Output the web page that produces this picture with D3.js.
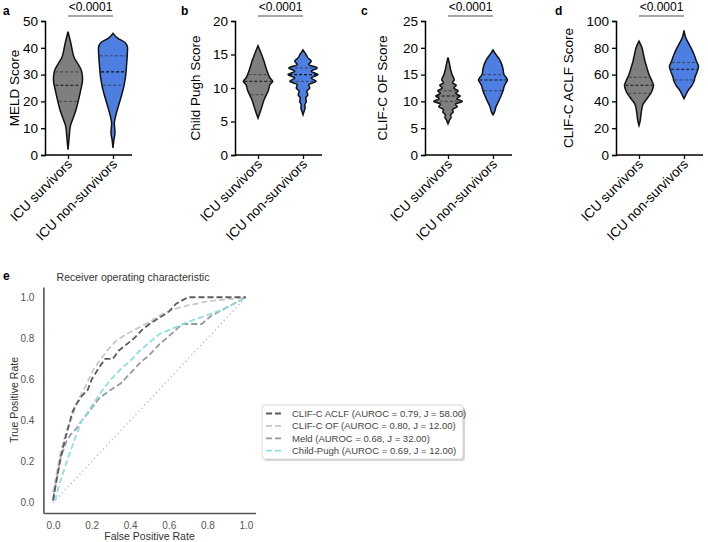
<!DOCTYPE html>
<html><head><meta charset="utf-8">
<script src="https://cdn.jsdelivr.net/npm/d3@7"></script>
<style>
body{margin:0;background:#fff;}
svg{display:block;font-family:Arial,"Liberation Sans",sans-serif;}
</style></head>
<body><svg id="c" width="708" height="542"></svg>
<script>
// ---------------- DATA ----------------
const groups = ["ICU survivors", "ICU non-survivors"];
const pValue = "<0.0001";

// violin densities: [score, relative half-width]
const meldSurv = [[46,0],[41.7,0.19],[36.7,0.39],[31,0.92],[28,0.97],[24.3,0.85],[20.5,0.7],[16.8,0.53],[13,0.29],[10.6,0.15],[6.8,0.08],[2,0]];
const meldNon = [[45.4,0],[43.5,0.33],[42,0.8],[40,0.97],[37,0.95],[34,0.91],[29,0.83],[24.3,0.67],[19.4,0.42],[14.3,0.17],[11.9,0.09],[9.5,0.12],[8,0.13],[6,0.07],[2.6,0]];
const meldQuart = [[20,26,31],[26,31,37]];
const meldTicks = [0,10,20,30,40,50];

const cpSurv = [[16.3,0],[14.2,0.37],[12.7,0.58],[11.5,0.8],[11,0.98],[10.5,0.8],[9.7,0.7],[8.2,0.4],[6.7,0.19],[5.5,0]];
const cpNon = [[15.7,0],[15,0.2],[14.5,0.33],[14,0.55],[13.5,0.38],[13,0.95],[12.5,0.55],[12,1.0],[11.5,0.55],[11,0.88],[10.5,0.38],[10,0.45],[9.5,0.25],[9,0.32],[8.5,0.18],[8,0.22],[7.5,0.12],[7,0.14],[6.5,0.07],[6,0]];
const cpQuart = [[9,11,12],[11,12,13]];
const cpTicks = [0,5,10,15,20];

const ofSurv = [[18.2,0],[17,0.1],[16,0.17],[15,0.27],[14,0.42],[13.5,0.3],[13,0.55],[12.5,0.38],[12,0.68],[11.5,0.5],[11,0.82],[10.5,0.58],[10,0.95],[9.5,0.5],[9,0.62],[8.5,0.3],[8,0.35],[7.5,0.18],[7,0.2],[6.5,0.1],[6,0.03],[5.8,0]];
const ofNon = [[19.6,0],[19,0.13],[18,0.4],[17,0.57],[16,0.67],[15,0.73],[14.5,0.87],[14,0.97],[13.5,0.87],[13,0.77],[12,0.67],[11,0.53],[10,0.37],[9,0.2],[8,0.1],[7.5,0]];
const ofQuart = [[10,11,12],[12,14,15]];
const ofTicks = [0,5,10,15,20,25];

const aclfSurv = [[85,0],[80,0.2],[75,0.3],[70,0.4],[65,0.53],[60,0.67],[55,0.87],[52,0.97],[48,0.87],[45,0.73],[42,0.53],[38,0.27],[35,0.2],[30,0.13],[25,0.07],[22,0]];
const aclfNon = [[93,0],[88,0.1],[84,0.27],[80,0.47],[75,0.67],[70,0.83],[66,0.97],[62,0.87],[58,0.73],[55,0.67],[52,0.53],[48,0.27],[45,0.13],[42,0]];
const aclfQuart = [[46,52,58],[56,64,69]];
const aclfTicks = [0,20,40,60,80,100];

const violinPanels = [
  {letter:"a", title:"MELD Score", max:50, ticks:meldTicks, data:[meldSurv, meldNon], quart:meldQuart},
  {letter:"b", title:"Child Pugh Score", max:20, ticks:cpTicks, data:[cpSurv, cpNon], quart:cpQuart},
  {letter:"c", title:"CLIF-C OF Score", max:25, ticks:ofTicks, data:[ofSurv, ofNon], quart:ofQuart},
  {letter:"d", title:"CLIF-C ACLF Score", max:100, ticks:aclfTicks, data:[aclfSurv, aclfNon], quart:aclfQuart}
];

// ROC curves: [FPR, TPR]
const rocAclf = [[0,0.01],[0.02,0.12],[0.04,0.22],[0.06,0.3],[0.08,0.37],[0.10,0.44],[0.12,0.48],[0.15,0.52],[0.18,0.55],[0.2,0.6],[0.24,0.66],[0.27,0.7],[0.31,0.7],[0.34,0.74],[0.38,0.77],[0.42,0.8],[0.46,0.84],[0.5,0.87],[0.55,0.9],[0.6,0.93],[0.64,0.97],[0.7,1.0],[1.0,1.0]];
const rocOf = [[0,0.05],[0.02,0.15],[0.04,0.25],[0.07,0.35],[0.10,0.42],[0.13,0.5],[0.17,0.57],[0.21,0.65],[0.24,0.69],[0.28,0.74],[0.33,0.79],[0.38,0.82],[0.44,0.85],[0.5,0.88],[0.55,0.91],[0.62,0.94],[0.7,0.96],[0.8,0.98],[0.9,0.99],[1,1]];
const rocMeld = [[0,0.02],[0.02,0.12],[0.04,0.22],[0.07,0.3],[0.09,0.33],[0.12,0.36],[0.15,0.4],[0.2,0.46],[0.24,0.51],[0.3,0.55],[0.35,0.58],[0.4,0.63],[0.45,0.68],[0.5,0.72],[0.55,0.77],[0.6,0.81],[0.67,0.87],[0.72,0.87],[0.77,0.87],[0.82,0.91],[0.88,0.94],[0.94,0.97],[1,1]];
const rocCp = [[0.01,0.01],[0.03,0.08],[0.06,0.17],[0.09,0.25],[0.12,0.33],[0.15,0.4],[0.2,0.47],[0.25,0.54],[0.3,0.6],[0.35,0.65],[0.4,0.69],[0.45,0.74],[0.5,0.78],[0.55,0.82],[0.6,0.84],[0.65,0.86],[0.7,0.88],[0.76,0.9],[0.82,0.92],[0.88,0.94],[0.94,0.97],[1,1]];
const rocChance = [[0,0],[1,1]];
const rocNames = ["CLIF-C ACLF (AUROC = 0.79, J = 58.00)","CLIF-C OF (AUROC = 0.80, J = 12.00)","Meld (AUROC = 0.68, J = 32.00)","Child-Pugh (AUROC = 0.69, J = 12.00)"];
const rocTicks = [0,0.2,0.4,0.6,0.8,1.0];

// ---------------- DRAW ----------------
const svg = d3.select("#c");
const fills = ["#7f7f7f", "#4d7fe3"];
const layout = [
  {x0:45, titleOff:31, letterX:3},
  {x0:235, titleOff:40, letterX:181},
  {x0:425, titleOff:43, letterX:361},
  {x0:616, titleOff:48, letterX:555}
];
const FS = 13.5;

function interp(arr, v){
  const s = arr.slice().sort((a,b)=>a[0]-b[0]);
  for(let i=0;i<s.length-1;i++){
    if(v>=s[i][0] && v<=s[i+1][0]){
      const t=(v-s[i][0])/(s[i+1][0]-s[i][0]);
      return s[i][1]+t*(s[i+1][1]-s[i][1]);
    }
  }
  return 0;
}

violinPanels.forEach((p,pi)=>{
  const L = layout[pi];
  const g = svg.append("g");
  const y = d3.scaleLinear().domain([0,p.max]).range([155,21]);
  const x = d3.scalePoint().domain(groups).range([L.x0+23, L.x0+68]);
  const w = d3.scaleLinear().domain([0,1]).range([0,15]);

  p.data.forEach((dens,gi)=>{
    const cx = x(groups[gi]);
    const area = d3.area()
      .y(d=>y(d[0]))
      .x0(d=>cx - w(d[1]))
      .x1(d=>cx + w(d[1]))
      .curve(d3.curveMonotoneY);
    const sorted = dens.slice().sort((a,b)=>b[0]-a[0]);
    g.append("path").attr("d", area(sorted))
      .attr("fill", fills[gi]).attr("stroke","#111").attr("stroke-width",1.5);
    p.quart[gi].forEach((q,qi)=>{
      const hw = w(interp(dens,q));
      g.append("line")
        .attr("x1",cx-hw+1).attr("x2",cx+hw-1)
        .attr("y1",y(q)).attr("y2",y(q))
        .attr("stroke", qi===1 ? "#111" : "#333")
        .attr("stroke-width", qi===1 ? 1.1 : 0.8)
        .attr("stroke-dasharray", "3,2");
    });
  });

  const ya = g.append("g").attr("transform",`translate(${L.x0},0)`)
    .call(d3.axisLeft(y).tickValues(p.ticks).tickSize(4).tickPadding(3));
  ya.select(".domain").attr("stroke","#000").attr("stroke-width",1.5);
  ya.selectAll(".tick line").attr("stroke","#000").attr("stroke-width",1.3);
  ya.selectAll(".tick text").attr("font-size",FS).attr("fill","#000").attr("font-family","Arial, 'Liberation Sans', sans-serif");

  const xa = g.append("g").attr("transform","translate(0,155)")
    .call(d3.axisBottom(x).tickSize(4).tickFormat(""));
  xa.select(".domain").remove();
  xa.selectAll(".tick line").attr("stroke","#000").attr("stroke-width",1.3);
  g.append("line").attr("x1",L.x0).attr("x2",L.x0+87).attr("y1",155).attr("y2",155)
    .attr("stroke","#000").attr("stroke-width",1.5);
  groups.forEach(gr=>{
    g.append("text").text(gr)
      .attr("transform",`translate(${x(gr)+5},${165}) rotate(-45)`)
      .attr("text-anchor","end").attr("font-size",FS).attr("fill","#000");
  });

  g.append("text").text(p.title)
    .attr("transform",`translate(${L.x0-L.titleOff},88) rotate(-90)`)
    .attr("text-anchor","middle").attr("dy","0.35em").attr("font-size",FS).attr("fill","#000");

  g.append("line").attr("x1",x(groups[0])).attr("x2",x(groups[1])).attr("y1",16).attr("y2",16)
    .attr("stroke","#888").attr("stroke-width",1.5);
  g.append("text").text(pValue).attr("x",(x(groups[0])+x(groups[1]))/2).attr("y",11)
    .attr("text-anchor","middle").attr("font-size",12).attr("fill","#000");

  g.append("text").text(p.letter).attr("x",L.letterX).attr("y",15)
    .attr("font-weight","bold").attr("font-size",12).attr("fill","#000");
});

// ROC panel
const rg = svg.append("g");
const rx = d3.scaleLinear().domain([-0.05,1.05]).range([43.4,255.6]);
const ry = d3.scaleLinear().domain([-0.05,1.05]).range([513,287]);
const line = d3.line().x(d=>rx(d[0])).y(d=>ry(d[1]));

rg.append("path").attr("d", line(rocChance)).attr("fill","none")
  .attr("stroke","#bdbdbd").attr("stroke-width",1.4).attr("stroke-dasharray","1.3,3");

const rocSeries = [rocAclf, rocOf, rocMeld, rocCp];
const rocColors = ["#5c5c5c", "#c8c8c8", "#999999", "#8ee0e6"];
const drawOrder = [2,3,1,0];
drawOrder.forEach(i=>{
  rg.append("path").attr("d", line(rocSeries[i])).attr("fill","none")
    .attr("stroke", rocColors[i]).attr("stroke-width",1.8).attr("stroke-dasharray","6,3");
});

const rxa = rg.append("g").attr("transform","translate(0,513)")
  .call(d3.axisBottom(rx).tickValues(rocTicks).tickFormat(d3.format(".1f")).tickSize(0).tickPadding(9));
rxa.select(".domain").attr("stroke","#555").attr("stroke-width",1.6);
rxa.selectAll(".tick text").attr("font-size",10).attr("fill","#555");
const rya = rg.append("g").attr("transform","translate(43.4,0)")
  .call(d3.axisLeft(ry).tickValues(rocTicks).tickFormat(d3.format(".1f")).tickSize(0).tickPadding(9));
rya.select(".domain").attr("stroke","#555").attr("stroke-width",1.6);
rya.selectAll(".tick text").attr("font-size",10).attr("fill","#555");

rg.append("text").text("Receiver operating characteristic").attr("x",133).attr("y",281)
  .attr("text-anchor","middle").attr("font-size",10.5).attr("fill","#333");
rg.append("text").text("False Positive Rate").attr("x",149.5).attr("y",540)
  .attr("text-anchor","middle").attr("font-size",10.5).attr("fill","#333");
rg.append("text").text("True Positive Rate")
  .attr("transform","translate(14,400) rotate(-90)")
  .attr("text-anchor","middle").attr("dy","0.35em").attr("font-size",10.5).attr("fill","#333");
rg.append("text").text("e").attr("x",3).attr("y",280)
  .attr("font-weight","bold").attr("font-size",12).attr("fill","#000");

// legend
const lg = rg.append("g").attr("transform","translate(262,405)");
lg.append("rect").attr("x",2).attr("y",2).attr("width",201).attr("height",54).attr("rx",3)
  .attr("fill","#d8d8d8");
lg.append("rect").attr("width",201).attr("height",54).attr("rx",3)
  .attr("fill","#fff").attr("stroke","#cfcfcf").attr("stroke-width",0.8);
rocNames.forEach((n,i)=>{
  const yy = 8.5 + i*12.4;
  lg.append("line").attr("x1",4).attr("x2",22).attr("y1",yy).attr("y2",yy)
    .attr("stroke",rocColors[i]).attr("stroke-width",1.8).attr("stroke-dasharray","6,3");
  lg.append("text").text(n).attr("x",30).attr("y",yy).attr("dy","0.35em")
    .attr("font-size",9.5).attr("fill","#444");
});
</script>
</body></html>
